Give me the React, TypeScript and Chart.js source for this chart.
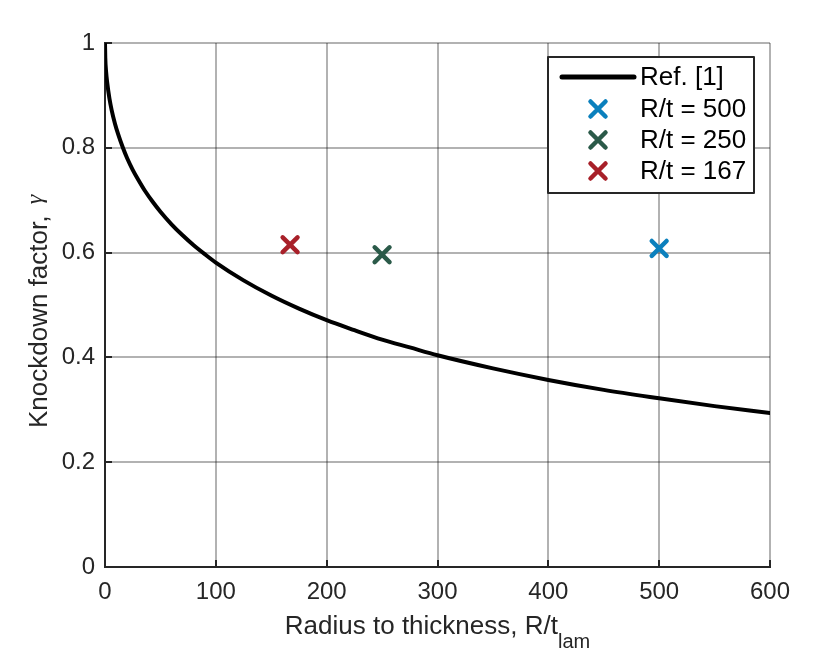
import React, { useEffect, useRef } from "react";
import { Chart, registerables } from "chart.js";

Chart.register(...registerables);

// Reference curve (Ref. [1])
const refLabel = "Ref. [1]";
const refX = [0, 0.25, 1, 2, 4, 6, 9, 12, 16, 20, 25, 30, 36, 43, 50, 60, 70, 80, 90, 100, 125, 150, 175, 200, 225, 250, 275, 300, 350, 400, 450, 500, 550, 600];
const refY = [1.0, 0.972, 0.945, 0.924, 0.894, 0.872, 0.846, 0.825, 0.801, 0.78, 0.758, 0.739, 0.718, 0.697, 0.678, 0.654, 0.633, 0.614, 0.597, 0.581, 0.547, 0.518, 0.493, 0.471, 0.452, 0.434, 0.419, 0.404, 0.379, 0.357, 0.338, 0.322, 0.307, 0.294];

// Test points
const testLabels = ["R/t = 500", "R/t = 250", "R/t = 167"];
const testX = [500, 250, 167];
const testY = [0.608, 0.596, 0.615];
const testColors = ["#0b80bd", "#2b5a49", "#a82029"];

// Axis ticks and titles
const xTicks = [0, 100, 200, 300, 400, 500, 600];
const yTicks = [0, 0.2, 0.4, 0.6, 0.8, 1];
const xTitle = "Radius to thickness, R/t";
const xTitleSub = "lam";
const yTitle = "Knockdown factor, ";
const yTitleSym = "γ";

const FONT = '"Liberation Sans", Arial, sans-serif';
const TEXT = "#262626";

export default function App() {
  const ref = useRef<HTMLCanvasElement | null>(null);

  useEffect(() => {
    if (!ref.current) return;

    const ticksPlugin = {
      id: "inwardTicks",
      beforeDatasetsDraw(chart: any) {
        const { ctx, chartArea, scales } = chart;
        ctx.save();
        ctx.strokeStyle = TEXT;
        ctx.lineWidth = 2;
        ctx.beginPath();
        xTicks.forEach((v) => {
          const x = Math.round(scales.x.getPixelForValue(v));
          ctx.moveTo(x, chartArea.bottom);
          ctx.lineTo(x, chartArea.bottom - 7);
        });
        yTicks.forEach((v) => {
          const y = Math.round(scales.y.getPixelForValue(v));
          ctx.moveTo(chartArea.left, y);
          ctx.lineTo(chartArea.left + 7, y);
        });
        ctx.stroke();
        ctx.restore();
        ctx.lineCap = "round";
        ctx.lineJoin = "round";
      },
    };

    const decorPlugin = {
      id: "decor",
      afterDraw(chart: any) {
        const { ctx, chartArea } = chart;
        ctx.save();
        // X title with subscript
        ctx.fillStyle = TEXT;
        ctx.textBaseline = "alphabetic";
        ctx.font = `26px ${FONT}`;
        const w1 = ctx.measureText(xTitle).width;
        ctx.font = `20px ${FONT}`;
        const w2 = ctx.measureText(xTitleSub).width;
        const cx = (chartArea.left + chartArea.right) / 2;
        const sx = cx - (w1 + w2) / 2;
        ctx.font = `26px ${FONT}`;
        ctx.textAlign = "left";
        ctx.fillText(xTitle, sx, 634);
        ctx.font = `20px ${FONT}`;
        ctx.fillText(xTitleSub, sx + w1, 648);

        // Y title (rotated)
        ctx.save();
        ctx.translate(47, 428);
        ctx.rotate(-Math.PI / 2);
        ctx.font = `26px ${FONT}`;
        const wy1 = ctx.measureText(yTitle).width;
        ctx.fillText(yTitle, 0, 0);
        ctx.font = `italic 24px "Liberation Serif", serif`;
        ctx.fillText(yTitleSym, wy1 + 4, -5);
        ctx.restore();

        // Legend
        const bx = 548, by = 57, bw = 206, bh = 136;
        ctx.fillStyle = "#ffffff";
        ctx.fillRect(bx, by, bw, bh);
        ctx.strokeStyle = TEXT;
        ctx.lineWidth = 2;
        ctx.strokeRect(bx, by, bw, bh);
        const rows = [77, 109, 140, 171];
        ctx.lineCap = "round";
        ctx.strokeStyle = "#000";
        ctx.lineWidth = 5;
        ctx.beginPath();
        ctx.moveTo(562, rows[0]);
        ctx.lineTo(634, rows[0]);
        ctx.stroke();
        ctx.font = `26px ${FONT}`;
        ctx.fillStyle = "#000";
        ctx.textBaseline = "middle";
        ctx.fillText(refLabel, 640, rows[0] + 1);
        testLabels.forEach((lab, i) => {
          const y = rows[i + 1];
          ctx.strokeStyle = testColors[i];
          ctx.lineWidth = 4.5;
          ctx.beginPath();
          const a = 7.5;
          ctx.moveTo(598 - a, y - a);
          ctx.lineTo(598 + a, y + a);
          ctx.moveTo(598 - a, y + a);
          ctx.lineTo(598 + a, y - a);
          ctx.stroke();
          ctx.fillStyle = "#000";
          ctx.fillText(lab, 640, y + 1);
        });
        ctx.restore();
      },
    };

    const datasets: any[] = [
      {
        type: "line",
        label: refLabel,
        data: refX.map((x, i) => ({ x, y: refY[i] })),
        borderColor: "#000",
        borderWidth: 4,
        pointRadius: 0,
        cubicInterpolationMode: "monotone",
        borderCapStyle: "round",
        borderJoinStyle: "round",
        fill: false,
        order: 1,
      },
      ...testLabels.map((lab, i) => ({
        type: "scatter",
        label: lab,
        data: [{ x: testX[i], y: testY[i] }],
        pointStyle: "crossRot",
        pointRadius: 10.5,
        borderColor: testColors[i],
        backgroundColor: testColors[i],
        borderWidth: 4.5,
        clip: false,
        order: 0,
      })),
    ];

    const chart = new Chart(ref.current, {
      type: "scatter",
      data: { datasets },
      options: {
        animation: false,
        responsive: false,
        devicePixelRatio: 1,
        layout: { padding: { left: 0, top: 43, right: 60, bottom: 0 } },
        plugins: { legend: { display: false }, tooltip: { enabled: false } },
        scales: {
          x: {
            type: "linear",
            min: 0,
            max: 600,
            afterBuildTicks: (s: any) => {
              s.ticks = xTicks.map((v) => ({ value: v }));
            },
            afterFit: (s: any) => {
              s.height = 103;
            },
            ticks: {
              color: TEXT,
              font: { family: FONT, size: 24 },
              padding: 11,
              maxRotation: 0,
              autoSkip: false,
              callback: (v: any) => String(v),
            },
            grid: { color: "rgba(0,0,0,0.3)", lineWidth: 2, drawTicks: false },
            border: { color: TEXT, width: 2 },
          },
          y: {
            type: "linear",
            min: 0,
            max: 1,
            afterBuildTicks: (s: any) => {
              s.ticks = yTicks.map((v) => ({ value: v }));
            },
            afterFit: (s: any) => {
              s.width = 105;
            },
            ticks: {
              color: TEXT,
              font: { family: FONT, size: 24 },
              padding: 10,
              autoSkip: false,
              callback: (v: any) => (v === 0 ? "0" : v === 1 ? "1" : Number(v).toFixed(1)),
            },
            grid: { color: "rgba(0,0,0,0.3)", lineWidth: 2, drawTicks: false },
            border: { color: TEXT, width: 2 },
          },
        },
      } as any,
      plugins: [ticksPlugin, decorPlugin],
    });

    return () => chart.destroy();
  }, []);

  return (
    <div style={{ position: "fixed", left: 0, top: 0, width: 830, height: 670, background: "#fff" }}>
      <canvas ref={ref} width={830} height={670} style={{ width: 830, height: 670, display: "block" }} />
    </div>
  );
}
